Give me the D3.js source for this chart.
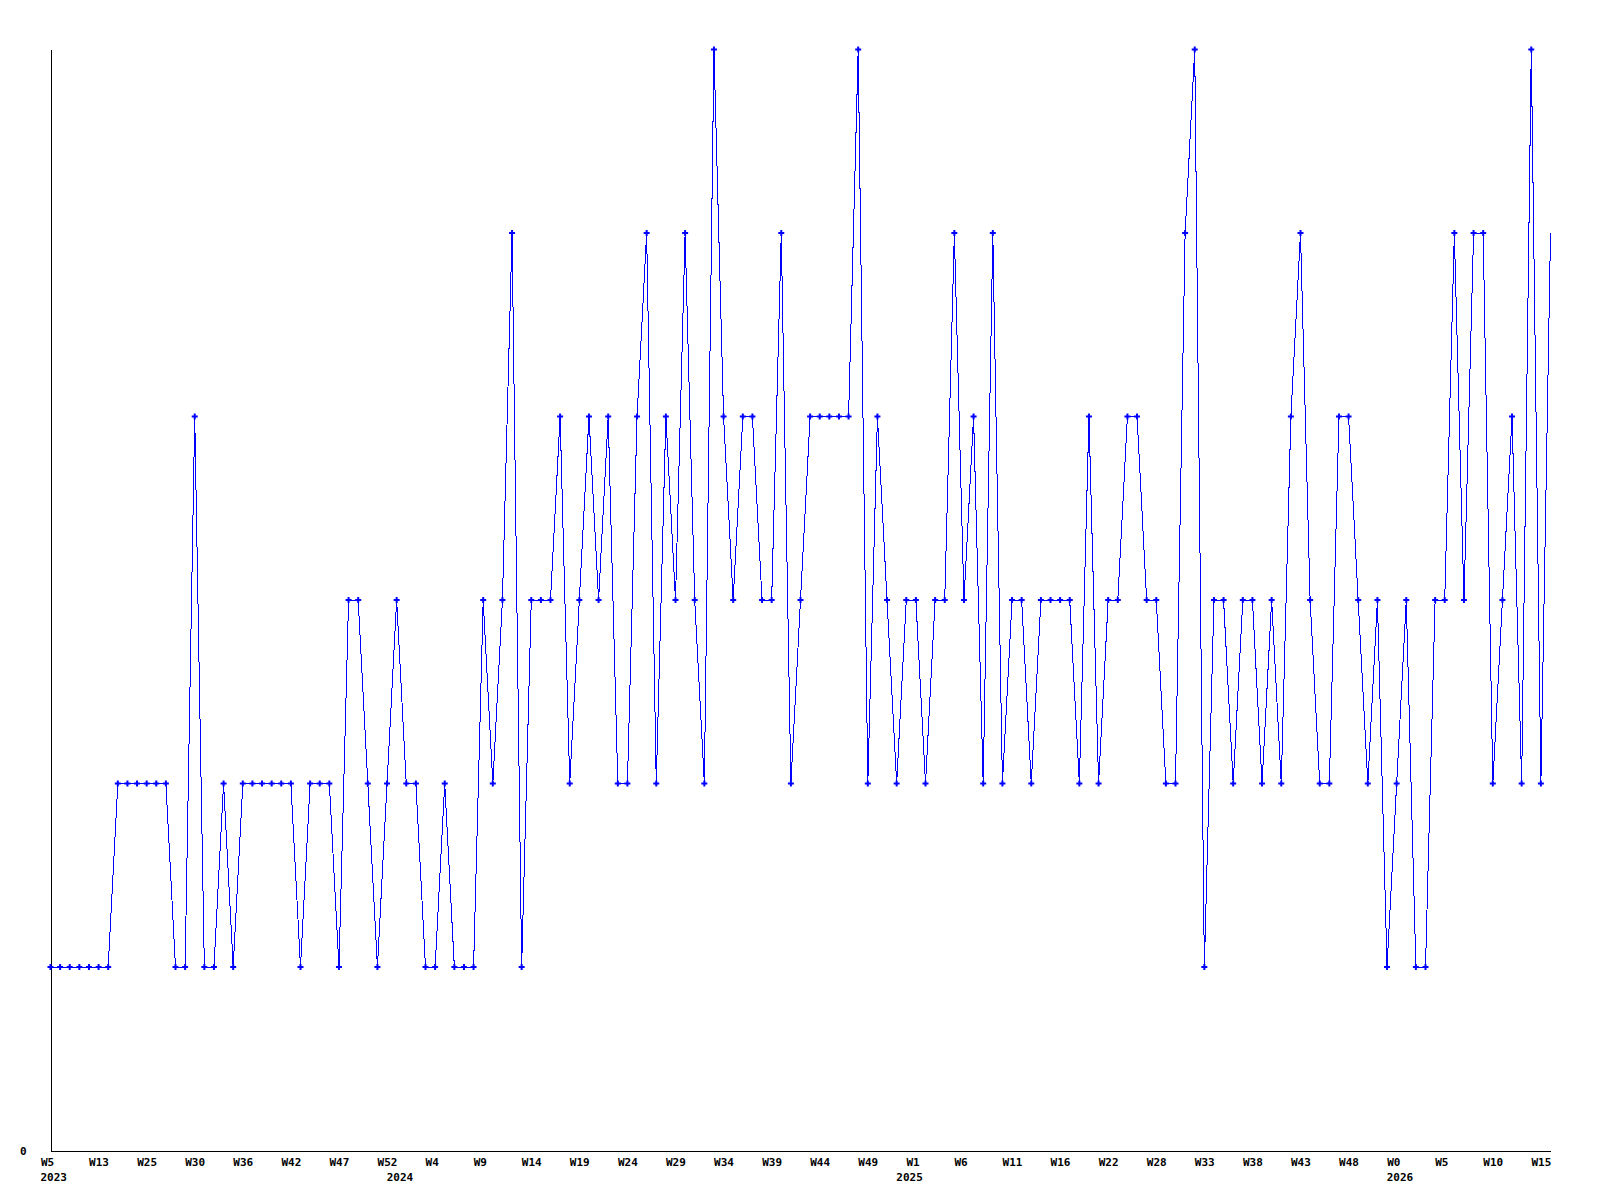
<!DOCTYPE html>
<html>
<head>
<meta charset="utf-8">
<script src="https://cdn.jsdelivr.net/npm/d3@7"></script>
<style>
  body { margin: 0; background: #fff; }
  text { font-family: "DejaVu Sans Mono", monospace; font-weight: bold; font-size: 11px; fill: #000; }
</style>
</head>
<body>
<svg id="chart" width="1600" height="1200"></svg>
<script>
// weekly counts, one per point
var values = [
  1,1,1,1,1,1,1,2,2,2,2,2,2,1,1,4,1,1,2,1,
  2,2,2,2,2,2,1,2,2,2,1,3,3,2,1,2,3,2,2,1,
  1,2,1,1,1,3,2,3,5,1,3,3,3,4,2,3,4,3,4,2,
  2,4,5,2,4,3,5,3,2,6,4,3,4,4,3,3,5,2,3,4,
  4,4,4,4,6,2,4,3,2,3,3,2,3,3,5,3,4,2,5,2,
  3,3,2,3,3,3,3,2,4,2,3,3,4,4,3,3,2,2,5,6,
  1,3,3,2,3,3,2,3,2,4,5,3,2,2,4,4,3,2,3,1,
  2,3,1,1,3,3,5,3,5,5,2,3,4,2,6,2,5
];

// a label every 5th point
var weekLabels = ["W5","W13","W25","W30","W36","W42","W47","W52","W4","W9","W14",
  "W19","W24","W29","W34","W39","W44","W49","W1","W6","W11","W16","W22","W28",
  "W33","W38","W43","W48","W0","W5","W10","W15"];
var weekStep = 5;

// index of first point of each year
var yearIdx = [0, 36, 89, 140];
var yearLabels = ["2023", "2024", "2025", "2026"];

var yMax = 6;

var svg = d3.select("#chart"),
    margin = {top: 49, right: 50, bottom: 50, left: 50},
    w = +svg.attr("width") - margin.left - margin.right,
    h = +svg.attr("height") - margin.top - margin.bottom;

var x = d3.scaleLinear().domain([0, values.length - 1]).range([0, w]);
var y = d3.scaleLinear().domain([0, yMax]).range([h, 0]);

var g = svg.append("g")
    .attr("transform", "translate(" + (margin.left + 0.5) + "," + (margin.top + 0.5) + ")");

// x axis: line + week labels, left aligned a bit before the point
var tickIdx = weekLabels.map(function(d, i) { return i * weekStep; });
var xAxis = g.append("g")
    .attr("class", "x axis")
    .attr("transform", "translate(0," + h + ")")
    .call(d3.axisBottom(x)
      .tickValues(tickIdx)
      .tickSize(0)
      .tickSizeOuter(0)
      .tickPadding(0)
      .tickFormat(function(d) { return weekLabels[d / weekStep]; }));
xAxis.select(".domain").attr("stroke", "#000").attr("shape-rendering", "crispEdges");
xAxis.selectAll("text")
    .attr("text-anchor", "start")
    .attr("dx", -10)
    .attr("y", 15)
    .attr("dy", 0)
    .style("font-family", "'DejaVu Sans Mono', monospace")
    .style("font-size", "11px")
    .style("font-weight", "bold");

// year labels under the week row
g.append("g").selectAll(".year")
    .data(yearIdx)
  .enter().append("text")
    .attr("class", "year")
    .attr("x", function(d) { return x(d) - 10; })
    .attr("y", h + 30)
    .text(function(d, i) { return yearLabels[i]; });

// y axis: only the 0 label
var yAxis = g.append("g")
    .attr("class", "y axis")
    .call(d3.axisLeft(y)
      .tickValues([0])
      .tickFormat(d3.format("d"))
      .tickSize(0)
      .tickSizeOuter(0)
      .tickPadding(24));
yAxis.select(".domain").attr("stroke", "#000").attr("shape-rendering", "crispEdges");
yAxis.selectAll("text")
    .style("font-family", "'DejaVu Sans Mono', monospace")
    .style("font-size", "11px")
    .style("font-weight", "bold");

// the series
var line = d3.line()
    .x(function(d, i) { return x(i); })
    .y(function(d) { return y(d); });

g.append("path")
    .datum(values)
    .attr("fill", "none")
    .attr("stroke", "#0000ff")
    .attr("stroke-width", 1)
    .attr("shape-rendering", "crispEdges")
    .attr("d", line);

g.selectAll(".dot")
    .data(values.slice(0, values.length - 1))
  .enter().append("path")
    .attr("class", "dot")
    .attr("fill", "#0000ff")
    .attr("transform", function(d, i) { return "translate(" + x(i) + "," + y(d) + ")"; })
    .attr("d", d3.symbol(d3.symbolCross, 20));
</script>
</body>
</html>
